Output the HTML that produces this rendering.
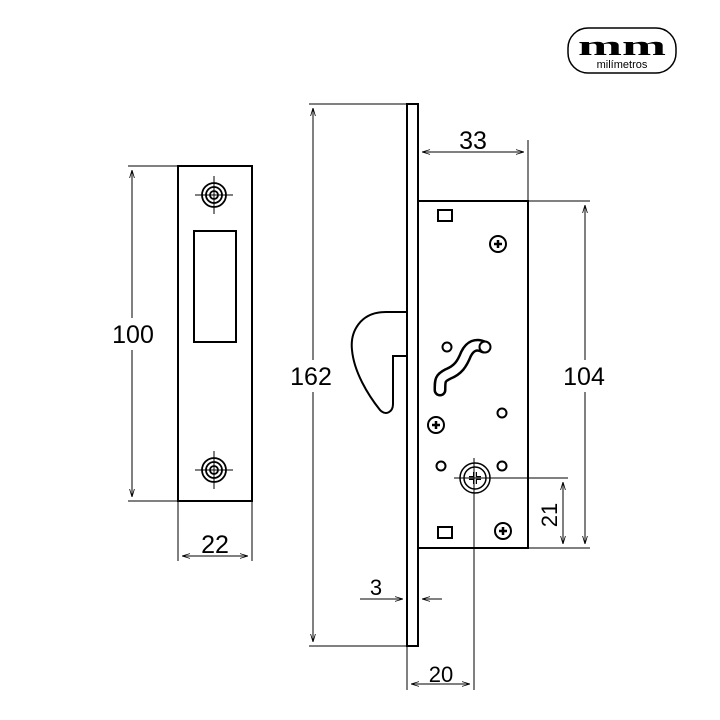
<!DOCTYPE html><html><head><style>body{margin:0;background:#fff}svg{display:block}</style></head><body>
<svg width="720" height="720" viewBox="0 0 720 720" xmlns="http://www.w3.org/2000/svg" font-family="Liberation Sans, sans-serif">
<defs>
<marker id="a" viewBox="0 0 10 10" refX="10" refY="5" markerWidth="8" markerHeight="8" orient="auto-start-reverse"><path d="M0,2 L10,5 L0,8" fill="none" stroke="#000" stroke-width="1"/></marker>
</defs>
<g fill="none" stroke="#000">
<rect x="568" y="28" width="108" height="45" rx="20" stroke-width="1.5"/>
<rect x="178" y="166" width="74" height="335" stroke-width="2"/>
<rect x="194" y="231" width="42" height="111" stroke-width="2"/>
<g stroke-width="1.8">
<circle cx="214" cy="195" r="12"/><circle cx="214" cy="195" r="8"/><circle cx="214" cy="195" r="4"/>
<path d="M195 195H233M214 176V214" stroke-width="1"/>
<circle cx="214" cy="470" r="12"/><circle cx="214" cy="470" r="8"/><circle cx="214" cy="470" r="4"/>
<path d="M195 470H233M214 451V489" stroke-width="1"/>
</g>
<g stroke-width="1">
<path d="M128 166H178M128 501H178"/>
<path d="M132 170V497" marker-start="url(#a)" marker-end="url(#a)"/>
<path d="M178 501V561M252 501V561"/>
<path d="M182 556H248" marker-start="url(#a)" marker-end="url(#a)"/>
</g>
<rect x="407" y="104" width="11" height="542" stroke-width="2"/>
<rect x="418" y="201" width="110" height="347" stroke-width="2"/>
<path d="M407 312H386C360 312 350 332 352 350C354 372 368 395 380 410C386 416 393 412 393 404V356H407" stroke-width="2"/>
<rect x="438" y="210" width="14" height="11" stroke-width="2"/>
<rect x="438" y="527" width="14" height="11" stroke-width="2"/>
<g stroke-width="2">
<circle cx="498" cy="244" r="8"/><circle cx="436" cy="425" r="8"/><circle cx="503" cy="531" r="8"/>
<circle cx="447" cy="347" r="4.5"/><circle cx="502" cy="413" r="4.5"/><circle cx="441" cy="466" r="4.5"/><circle cx="502" cy="466" r="4.5"/>
</g>
<g stroke-width="2.5">
<path d="M494 244h8M498 240v8M432 425h8M436 421v8M499 531h8M503 527v8"/>
</g>
<path d="M484 347C476 343 470 346 466 354C462 364 458 370 448 374C440 378 440 380 440 390" stroke-width="13" stroke-linecap="round"/>
<path d="M484 347C476 343 470 346 466 354C462 364 458 370 448 374C440 378 440 380 440 390" stroke="#fff" stroke-width="8" stroke-linecap="round"/>
<circle cx="485" cy="347" r="5.5" stroke-width="2" fill="#fff"/>
<circle cx="475" cy="478" r="15" stroke-width="1.5"/><circle cx="475" cy="478" r="11" stroke-width="1.5"/>
<path d="M469 478h12M475 472v12" stroke-width="4"/>
<path d="M469 478h12M475 472v12" stroke="#fff" stroke-width="1.5"/>
<g stroke-width="1">
<path d="M454 478H568M474 458V690"/>
<path d="M309 104H407M309 646H407"/>
<path d="M313 108V642" marker-start="url(#a)" marker-end="url(#a)"/>
<path d="M528 140V201"/>
<path d="M422 152H524" marker-start="url(#a)" marker-end="url(#a)"/>
<path d="M528 201H590M528 548H590"/>
<path d="M585 205V544" marker-start="url(#a)" marker-end="url(#a)"/>
<path d="M563 482V544" marker-start="url(#a)" marker-end="url(#a)"/>
<path d="M360 599H403" marker-end="url(#a)"/>
<path d="M442 599H422" marker-end="url(#a)"/>
<path d="M407 646V690"/>
<path d="M411 684H470" marker-start="url(#a)" marker-end="url(#a)"/>
</g>
</g>
<g fill="#fff">
<rect x="108" y="318" width="50" height="32"/>
<rect x="286" y="360" width="52" height="32"/>
<rect x="559" y="360" width="52" height="32"/>
</g>
<g font-size="25" fill="#000" text-anchor="middle">
<text x="133" y="343">100</text>
<text x="215" y="553">22</text>
<text x="311" y="385">162</text>
<text x="473" y="149">33</text>
<text x="584" y="385">104</text>
<text x="376" y="595" font-size="22">3</text>
<text x="441" y="682" font-size="22">20</text>
<text x="0" y="0" font-size="22" transform="translate(557,515) rotate(-90)">21</text>
</g>
<text x="622" y="55" font-family="Liberation Serif, serif" font-weight="bold" font-size="28" text-anchor="middle" textLength="88" lengthAdjust="spacingAndGlyphs">mm</text>
<text x="622" y="68" font-size="11" text-anchor="middle">milímetros</text>
</svg>
</body></html>
